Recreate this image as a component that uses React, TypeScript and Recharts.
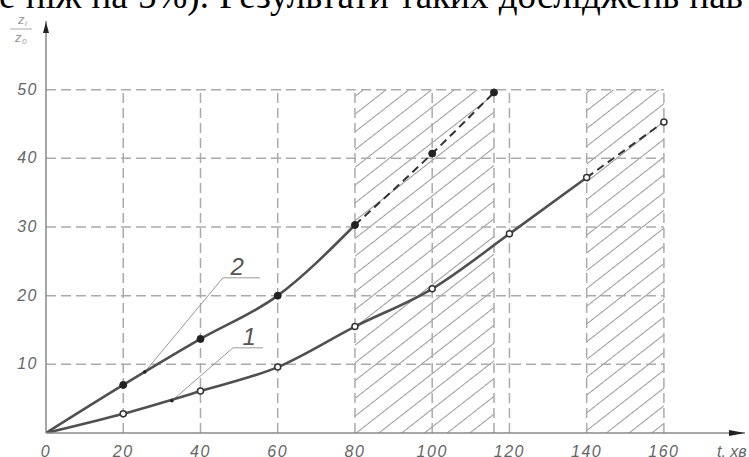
import {
  LineChart,
  Line,
  XAxis,
  YAxis,
  ReferenceArea,
  ReferenceLine,
  ReferenceDot,
} from 'recharts';

// measured points, t in minutes
const curve2T = [0, 20, 40, 60, 80, 100, 116];
const curve2Z = [0, 7, 13.7, 20, 30.3, 40.7, 49.6];
const curve1T = [0, 20, 40, 60, 80, 100, 120, 140, 160];
const curve1Z = [0, 2.8, 6.1, 9.6, 15.5, 21, 29, 37.2, 45.3];
const curve2SolidEnd = 80;
const curve1SolidEnd = 140;

const xTicks = [0, 20, 40, 60, 80, 100, 120, 140, 160];
const yTicks = [10, 20, 30, 40, 50];
const gridX = [20, 40, 60, 80, 100, 116, 120, 140, 160];
const gridY = [10, 20, 30, 40, 50];
const hatchZones = [[80, 116], [140, 160]];

// callout leaders: start on curve, elbow, end of shelf
const leader2 = [{ x: 25.6, y: 8.9 }, { x: 45.8, y: 22.6 }, { x: 55.4, y: 22.6 }];
const leader1 = [{ x: 32.6, y: 4.7 }, { x: 48.4, y: 12.4 }, { x: 56.2, y: 12.4 }];
const calloutLabels = [
  { x: 49.5, y: 22.6, text: '2' },
  { x: 52.6, y: 12.4, text: '1' },
];

const toPts = (ts: number[], zs: number[]) => ts.map((t, i) => ({ x: t, y: zs[i] }));
const c2 = toPts(curve2T, curve2Z);
const c1 = toPts(curve1T, curve1Z);
const c2Solid = c2.filter(p => p.x <= curve2SolidEnd);
const c2Dash = c2.filter(p => p.x >= curve2SolidEnd);
const c1Solid = c1.filter(p => p.x <= curve1SolidEnd);
const c1Dash = c1.filter(p => p.x >= curve1SolidEnd);
const c2Marks = c2.filter(p => p.x > 0);
const c1Marks = c1.filter(p => p.x > 0);
const leaderDots = [leader2[0], leader1[0]];

const tickFont = "'Liberation Sans Narrow', 'Liberation Sans', sans-serif";
const GRID = '#ababab';
const INK = '#505050';

function XTick({ x, payload }: any) {
  return (
    <text x={x} y={457} textAnchor="middle" fontFamily={tickFont} fontStyle="italic"
      fontSize={16} letterSpacing={1.5} fill="#666">
      {payload.value}
    </text>
  );
}

function YTick({ y, payload }: any) {
  return (
    <text x={38} y={y + 5} textAnchor="end" fontFamily={tickFont} fontStyle="italic"
      fontSize={16} letterSpacing={1.5} fill="#666">
      {payload.value}
    </text>
  );
}

function YTitle() {
  return (
    <g fontFamily={tickFont} fontStyle="italic" fill="#999">
      <text x={18} y={24} fontSize={13}>z</text>
      <text x={25} y={26} fontSize={8}>i</text>
      <line x1={10} y1={29} x2={32} y2={29} stroke="#aaa" strokeWidth={1} />
      <text x={15} y={42} fontSize={13}>z</text>
      <text x={22} y={44} fontSize={8}>0</text>
    </g>
  );
}

function XTitle() {
  return (
    <text x={717} y={457} fontFamily={tickFont} fontStyle="italic" fontSize={16} fill="#666">
      t, хв
    </text>
  );
}

export default function App() {
  return (
    <div style={{ position: 'absolute', left: 0, top: 0, width: 749, height: 457, overflow: 'hidden', background: '#fff' }}>
      <div style={{ position: 'absolute', left: -1, top: -23, fontFamily: "'Liberation Serif', serif", fontSize: 37, lineHeight: '37px', wordSpacing: 1, whiteSpace: 'nowrap', color: '#000' }}>
        е ніж на 5%). Результати таких досліджень нав
      </div>
      <LineChart width={749} height={457} margin={{ top: 21, right: 4, bottom: 0, left: 0 }}>
        <defs>
          <pattern id="hatch" width="10" height="14" patternUnits="userSpaceOnUse" patternTransform="rotate(-38)">
            <line x1="0" y1="0.5" x2="10" y2="0.5" stroke="#9a9a9a" strokeWidth="1" />
          </pattern>
        </defs>
        <XAxis type="number" dataKey="x" domain={[0, 181]} ticks={xTicks} allowDataOverflow
          height={24} tick={<XTick />} tickLine={false}
          axisLine={{ stroke: '#888', strokeWidth: 1.5 }} label={{ content: <XTitle /> }} />
        <YAxis type="number" dataKey="y" domain={[0, 60]} ticks={yTicks} allowDataOverflow
          width={46} tick={<YTick />} tickLine={false}
          axisLine={{ stroke: '#888', strokeWidth: 1.5 }} label={{ content: <YTitle /> }} />

        {hatchZones.map(([a, b]) => (
          <ReferenceArea key={'h' + a} x1={a} x2={b} y1={0} y2={50} fill="url(#hatch)" fillOpacity={1} stroke="none" />
        ))}
        {gridY.map(v => (
          <ReferenceLine key={'gy' + v} segment={[{ x: 0, y: v }, { x: 160, y: v }]}
            stroke={GRID} strokeWidth={1.5} strokeDasharray="10 5" />
        ))}
        {gridX.map(v => (
          <ReferenceLine key={'gx' + v} segment={[{ x: v, y: 0 }, { x: v, y: 50 }]}
            stroke={GRID} strokeWidth={1.5} strokeDasharray="10 5" />
        ))}

        <Line data={leader2} dataKey="y" type="linear" stroke="#999" strokeWidth={1} dot={false} isAnimationActive={false} />
        <Line data={leader1} dataKey="y" type="linear" stroke="#999" strokeWidth={1} dot={false} isAnimationActive={false} />

        <Line data={c2Solid} dataKey="y" type="monotone" stroke={INK} strokeWidth={2.6} dot={false} isAnimationActive={false} />
        <Line data={c2Dash} dataKey="y" type="monotone" stroke="#333" strokeWidth={2} strokeDasharray="8 5" dot={false} isAnimationActive={false} />
        <Line data={c1Solid} dataKey="y" type="monotone" stroke={INK} strokeWidth={2.6} dot={false} isAnimationActive={false} />
        <Line data={c1Dash} dataKey="y" type="monotone" stroke="#333" strokeWidth={2} strokeDasharray="8 5" dot={false} isAnimationActive={false} />

        <Line data={c2Marks} dataKey="y" stroke="none" isAnimationActive={false}
          dot={{ r: 3.5, fill: '#222', stroke: '#222', strokeWidth: 1 }} activeDot={false} />
        <Line data={c1Marks} dataKey="y" stroke="none" isAnimationActive={false}
          dot={{ r: 3, fill: '#fff', stroke: '#333', strokeWidth: 1.5 }} activeDot={false} />
        <Line data={leaderDots} dataKey="y" stroke="none" isAnimationActive={false}
          dot={{ r: 1.8, fill: '#222', stroke: 'none' }} activeDot={false} />

        {calloutLabels.map(l => (
          <ReferenceDot key={'cl' + l.text} x={l.x} y={l.y} r={0} ifOverflow="visible"
            shape={(p: any) => (
              <text x={p.cx} y={p.cy - 3} textAnchor="middle" fontFamily={tickFont}
                fontStyle="italic" fontSize={24} fill="#555">{l.text}</text>
            )} />
        ))}

        <ReferenceDot x={0} y={60} r={0} ifOverflow="visible"
          shape={(p: any) => <polygon points={`${p.cx},${p.cy + 1} ${p.cx - 3},${p.cy + 12} ${p.cx + 3},${p.cy + 12}`} fill="#222" />} />
        <ReferenceDot x={181} y={0} r={0} ifOverflow="visible"
          shape={(p: any) => <polygon points={`${p.cx},${p.cy} ${p.cx - 16},${p.cy - 3} ${p.cx - 16},${p.cy + 3}`} fill="#222" />} />
      </LineChart>
    </div>
  );
}
